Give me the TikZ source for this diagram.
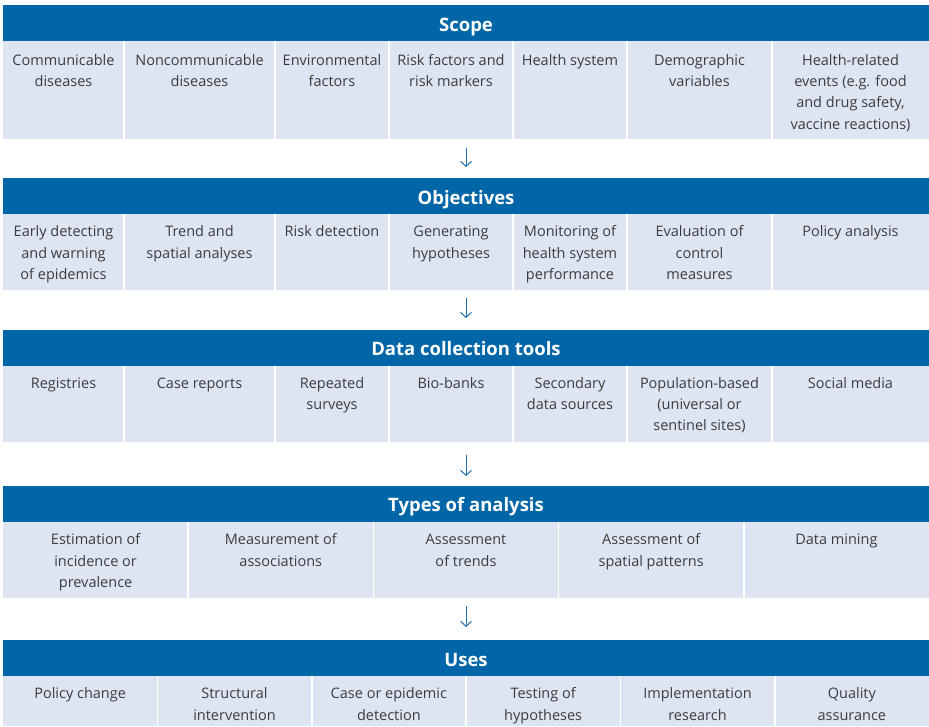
\documentclass[tikz,border=0pt]{standalone}
\usepackage{fontspec}
\setmainfont{Open Sans}
\usetikzlibrary{arrows.meta}
\definecolor{hdrblue}{HTML}{0066A8}
\definecolor{cellfill}{HTML}{DEE5F2}
\definecolor{txtgray}{HTML}{3C3C3C}
\definecolor{arrblue}{HTML}{1F6FB2}
\tikzset{
  hdr/.style={fill=hdrblue, draw=none, inner sep=0pt, outer sep=0pt,
    minimum width=926pt, minimum height=36pt, text=white,
    text height=16pt, text depth=0pt,
    font=\fontsize{18.5}{22}\selectfont\bfseries},
  cellbg/.style={fill=cellfill, draw=none, inner sep=0pt, outer sep=0pt,
    minimum width=926pt},
  celltext/.style={align=center, inner sep=0pt, text=txtgray,
    font=\fontsize{14.5}{21.3}\selectfont},
  divider/.style={draw=white, line width=1.6pt},
  arr/.style={draw=arrblue, line width=1pt,
    -{Straight Barb[length=5pt,width=11pt,line width=1pt]}}
}
\newcommand\cellrow[5][11.5]{%
  \node[cellbg, minimum height={(#4-#3)*1pt}] (#2) at (466,{(#3+#4)/2}) {};
  \foreach \xa/\xb/\t [count=\i] in {#5} {
    \node[celltext, anchor=north] (#2-\i) at ({(\xa+\xb)/2},{#3+#1}) {\vphantom{Ah}\t};
    \ifdim\xb pt<928pt \draw[divider] (\xb,#3) -- (\xb,#4);\fi
  }%
}
\begin{document}
\begin{tikzpicture}[x=1pt,y=-1pt]
\useasboundingbox (0,0) rectangle (929,726);
\fill[white] (0,0) rectangle (929,726);

% Scope
\node[hdr] (scopehead) at (466,23) {Scope};
\cellrow[13]{scopecells}{41}{139}{%
  3/124/{Communicable\\diseases},
  124/275/{Noncommunicable\\diseases},
  275/389/{Environmental\\factors},
  389/513/{Risk factors and\\risk markers},
  513/627/{Health system},
  627/772/{Demographic\\variables},
  772/929/{Health-related\\events (e.g. food\\and drug safety,\\vaccine reactions)}}

% Objectives
\node[hdr] (objhead) at (466,196) {Objectives};
\cellrow{objcells}{214}{290}{%
  3/124/{Early detecting\\and warning\\of epidemics},
  124/275/{Trend and\\spatial analyses},
  275/389/{Risk detection},
  389/513/{Generating\\hypotheses},
  513/627/{Monitoring of\\health system\\performance},
  627/772/{Evaluation of\\control\\measures},
  772/929/{Policy analysis}}

% Data collection tools
\node[hdr] (datahead) at (466,347.5) {Data collection tools};
\cellrow{datacells}{365.5}{442}{%
  3/124/{Registries},
  124/275/{Case reports},
  275/389/{Repeated\\surveys},
  389/513/{Bio-banks},
  513/627/{Secondary\\data sources},
  627/772/{Population-based\\(universal or\\sentinel sites)},
  772/929/{Social media}}

% Types of analysis
\node[hdr] (typehead) at (466,503.5) {Types of analysis};
\cellrow{typecells}{522}{598}{%
  3/188.2/{Estimation of\\incidence or\\prevalence},
  188.2/373.4/{Measurement of\\associations},
  373.4/558.6/{Assessment\\of trends},
  558.6/743.8/{Assessment of\\spatial patterns},
  743.8/929/{Data mining}}

% Uses
\node[hdr] (usehead) at (466,658) {Uses};
\cellrow{usecells}{676}{726}{%
  3/157.3/{Policy change},
  157.3/311.7/{Structural\\intervention},
  311.7/466/{Case or epidemic\\detection},
  466/620.3/{Testing of\\hypotheses},
  620.3/774.7/{Implementation\\research},
  774.7/929/{Quality\\assurance}}

% Arrows
\draw[arr, shorten <=8.5pt, shorten >=11pt] (scopecells.south) -- (objhead.north);
\draw[arr, shorten <=8pt, shorten >=11.5pt] (objcells.south) -- (datahead.north);
\draw[arr, shorten <=13pt, shorten >=9.5pt] (datacells.south) -- (typehead.north);
\draw[arr, shorten <=8pt, shorten >=13pt] (typecells.south) -- (usehead.north);
\end{tikzpicture}
\end{document}
